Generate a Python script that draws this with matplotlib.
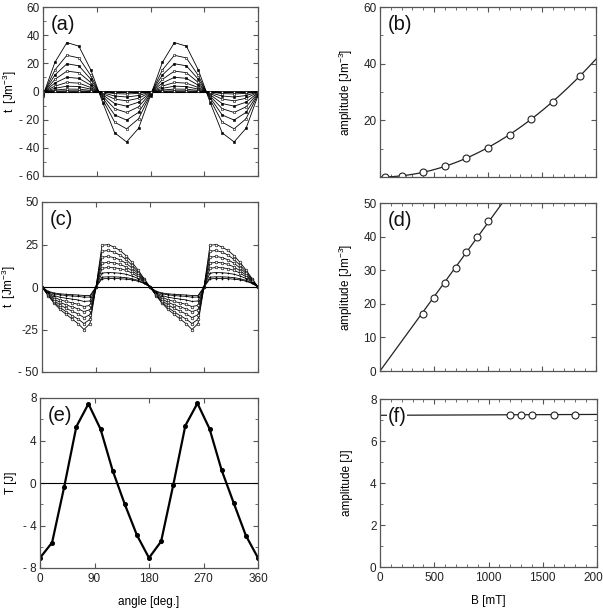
import numpy as np
import matplotlib
matplotlib.use('Agg')
import matplotlib.pyplot as plt
from matplotlib.ticker import MultipleLocator

plt.rcParams['font.family'] = ['Liberation Sans', 'DejaVu Sans']
plt.rcParams['mathtext.fontset'] = 'custom'
plt.rcParams['mathtext.rm'] = 'Liberation Sans'

# ---- data ----
angle20 = [0, 20, 40, 60, 80, 100, 120, 140, 160, 180,
           200, 220, 240, 260, 280, 300, 320, 340, 360]
angle10_half = [0, 10, 20, 30, 40, 50, 60, 70, 80, 90,
                100, 110, 120, 130, 140, 150, 160, 170, 180]

# (a) normalised torque shape, amplitudes taken from panel (b)
shape_a = [-0.08, 0.58, 0.97, 0.90, 0.43, -0.22, -0.82, -1.0, -0.73, -0.08,
           0.58, 0.97, 0.90, 0.43, -0.22, -0.82, -1.0, -0.73, -0.08]

# (b) amplitude vs field
B_b = [50, 200, 400, 600, 800, 1000, 1200, 1400, 1600, 1850]
amp_b = [0.1, 0.5, 1.8, 3.9, 6.6, 10.4, 14.9, 20.3, 26.5, 35.8]

# (c) torque curves, half period (0..180 deg), repeated for 180..360
curves_c = [
    [0, -5, -9.5, -13.2, -16, -18.8, -21.5, -25, -21.5, 0, 24.5, 25, 23.5, 21.5, 18.5, 14.5, 10, 5, 0],
    [0, -4.8, -8.8, -12, -14.5, -16.8, -18.8, -21.5, -19, 0, 21, 21.5, 20.5, 18.8, 16.2, 12.8, 9, 4.6, 0],
    [0, -4.5, -8, -10.5, -12.5, -14.2, -15.8, -18, -16.3, 0, 17.5, 18, 17.3, 16, 14, 11.2, 8, 4.2, 0],
    [0, -4.2, -7, -9, -10.5, -11.7, -12.8, -14.5, -13.3, 0, 14, 14.5, 14.2, 13.3, 11.8, 9.6, 7, 3.8, 0],
    [0, -3.8, -6, -7.5, -8.5, -9.3, -10.2, -11.5, -10.8, 0, 11, 11.5, 11.3, 10.8, 9.8, 8.2, 6, 3.3, 0],
    [0, -3.3, -5, -6, -6.6, -7.1, -7.6, -8.5, -8.2, 0, 8.2, 8.5, 8.4, 8.1, 7.5, 6.5, 5, 2.9, 0],
    [0, -2.8, -4, -4.6, -5, -5.3, -5.5, -6, -5.9, 0, 5.8, 6, 6, 5.8, 5.5, 4.9, 3.9, 2.4, 0],
    [0, -2.5, -3.5, -4, -4.3, -4.5, -4.7, -5, -5, 0, 4.8, 5, 5, 4.9, 4.6, 4.2, 3.4, 2.1, 0],
]

# (d) amplitude vs field
B_d = [400, 500, 600, 700, 800, 900, 1000]
amp_d = [17.1, 21.8, 26.3, 30.7, 35.3, 39.8, 44.7]

# (e) torque
T_e = [-7.05, -5.6, -0.35, 5.3, 7.45, 5.07, 1.17, -2.0, -4.9, -7.05,
       -5.5, -0.2, 5.4, 7.5, 5.1, 1.2, -1.9, -4.95, -7.05]

# (f) amplitude vs field
B_f = [1200, 1300, 1400, 1600, 1800]
amp_f = [7.25, 7.25, 7.25, 7.26, 7.26]

W, H = 603, 609
fig = plt.figure(figsize=(W / 100, H / 100), dpi=100)


def box(l, r, t, b):
    return [l / W, 1 - b / H, (r - l) / W, (b - t) / H]


spine_col = '#555555'
tick_fs = 8.5


def style(ax, label):
    for s in ax.spines.values():
        s.set_color(spine_col)
        s.set_linewidth(0.9)
    ax.tick_params(which='both', direction='in', top=True, right=True,
                   colors=spine_col, labelcolor='#222222', labelsize=tick_fs)
    ax.tick_params(which='major', length=3.5)
    ax.tick_params(which='minor', length=2)
    ax.tick_params(axis='y', pad=2.5)
    ax.text(0.035, 0.955, label, transform=ax.transAxes, fontsize=14.5,
            va='top', ha='left', color='#111111')


ax_a = fig.add_axes(box(43, 258, 7, 176))
ax_c = fig.add_axes(box(42, 258, 202, 372))
ax_e = fig.add_axes(box(40, 258, 398, 568))
ax_b = fig.add_axes(box(380, 596, 7, 177))
ax_d = fig.add_axes(box(380, 596, 203, 371))
ax_f = fig.add_axes(box(380, 597, 399, 567))

# ---- (a) ----
ax_a.axhline(0, color='k', lw=0.8)
for i, A in enumerate(sorted(amp_b, reverse=True)):
    y = A * np.array(shape_a)
    filled = i % 2 == 0
    ax_a.plot(angle20, y, '-', color='k', lw=0.6, marker='s', ms=1.7,
              mfc='k' if filled else 'white', mec='k', mew=0.4)
ax_a.set_xlim(0, 360)
ax_a.set_ylim(-60, 60)
ax_a.set_xticks([0, 90, 180, 270, 360])
ax_a.set_xticklabels([])
ax_a.set_yticks([60, 40, 20, 0, -20, -40, -60])
ax_a.set_yticklabels(['60', '40', '20', '0', '- 20', '- 40', '- 60'])
ax_a.yaxis.set_minor_locator(MultipleLocator(10))
ax_a.set_ylabel('t  [Jm$^{-3}$]', fontsize=8.5, labelpad=0)
style(ax_a, '(a)')

# ---- (c) ----
angle_c = angle10_half + [a + 180 for a in angle10_half[1:]]
ax_c.axhline(0, color='k', lw=0.8)
for i, half in enumerate(curves_c):
    y = half + half[1:]
    mk = 'o' if i < 5 else '+'
    ax_c.plot(angle_c, y, '-', color='k', lw=0.6, marker=mk, ms=1.9,
              mfc='white', mec='k', mew=0.45)
ax_c.set_xlim(0, 360)
ax_c.set_ylim(-50, 50)
ax_c.set_xticks([0, 90, 180, 270, 360])
ax_c.set_xticklabels([])
ax_c.set_yticks([50, 25, 0, -25, -50])
ax_c.set_yticklabels(['50', '25', '0', '-25', '- 50'])
ax_c.set_ylabel('t  [Jm$^{-3}$]', fontsize=8.5, labelpad=0)
style(ax_c, '(c)')

# ---- (e) ----
ax_e.axhline(0, color='k', lw=0.8)
ax_e.plot(angle20, T_e, '-', color='k', lw=1.6, marker='o', ms=2.6)
ax_e.set_xlim(0, 360)
ax_e.set_ylim(-8, 8)
ax_e.set_xticks([0, 90, 180, 270, 360])
ax_e.set_yticks([8, 4, 0, -4, -8])
ax_e.set_yticklabels(['8', '4', '0', '- 4', '- 8'])
ax_e.yaxis.set_minor_locator(MultipleLocator(2))
ax_e.set_ylabel('T [J]', fontsize=8.5, labelpad=4)
ax_e.set_xlabel('angle [deg.]', fontsize=8.5, labelpad=8)
style(ax_e, '(e)')

Bfine = np.linspace(0, 2000, 200)

# ---- (b) ----
Bb = np.array(B_b, float)
k_b = np.sum(Bb ** 2 * np.array(amp_b)) / np.sum(Bb ** 4)
ax_b.plot(Bfine, k_b * Bfine ** 2, color='#222222', lw=0.9)
ax_b.plot(B_b, amp_b, 'o', ms=5, mfc='white', mec='#222222', mew=0.8)
ax_b.set_xlim(0, 2000)
ax_b.set_ylim(0, 60)
ax_b.set_yticks([20, 40, 60])
ax_b.yaxis.set_minor_locator(MultipleLocator(10))
ax_b.xaxis.set_major_locator(MultipleLocator(500))
ax_b.xaxis.set_minor_locator(MultipleLocator(100))
ax_b.set_xticklabels([])
ax_b.set_ylabel('amplitude [Jm$^{-3}$]', fontsize=8.5, labelpad=6)
style(ax_b, '(b)')

# ---- (d) ----
Bd = np.array(B_d, float)
k_d = np.sum(Bd * np.array(amp_d)) / np.sum(Bd ** 2)
ax_d.plot(Bfine, k_d * Bfine, color='#222222', lw=0.9)
ax_d.plot(B_d, amp_d, 'o', ms=5, mfc='white', mec='#222222', mew=0.8)
ax_d.set_xlim(0, 2000)
ax_d.set_ylim(0, 50)
ax_d.set_yticks([0, 10, 20, 30, 40, 50])
ax_d.xaxis.set_major_locator(MultipleLocator(500))
ax_d.xaxis.set_minor_locator(MultipleLocator(100))
ax_d.set_xticklabels([])
ax_d.set_ylabel('amplitude [Jm$^{-3}$]', fontsize=8.5, labelpad=6)
style(ax_d, '(d)')

# ---- (f) ----
p_f = np.polyfit(B_f, amp_f, 1)
ax_f.plot(Bfine, np.polyval(p_f, Bfine), color='#222222', lw=0.9)
ax_f.plot(B_f, amp_f, 'o', ms=5, mfc='white', mec='#222222', mew=0.8)
ax_f.set_xlim(0, 2000)
ax_f.set_ylim(0, 8)
ax_f.set_yticks([0, 2, 4, 6, 8])
ax_f.yaxis.set_minor_locator(MultipleLocator(1))
ax_f.xaxis.set_major_locator(MultipleLocator(500))
ax_f.xaxis.set_minor_locator(MultipleLocator(100))
ax_f.set_ylabel('amplitude [J]', fontsize=8.5, labelpad=12)
ax_f.set_xlabel('B [mT]', fontsize=8.5, labelpad=8)
style(ax_f, '(f)')
ax_f.texts[-1].set_bbox(dict(facecolor='white', edgecolor='none', pad=0.5))

fig.savefig('out.png', dpi=100)
